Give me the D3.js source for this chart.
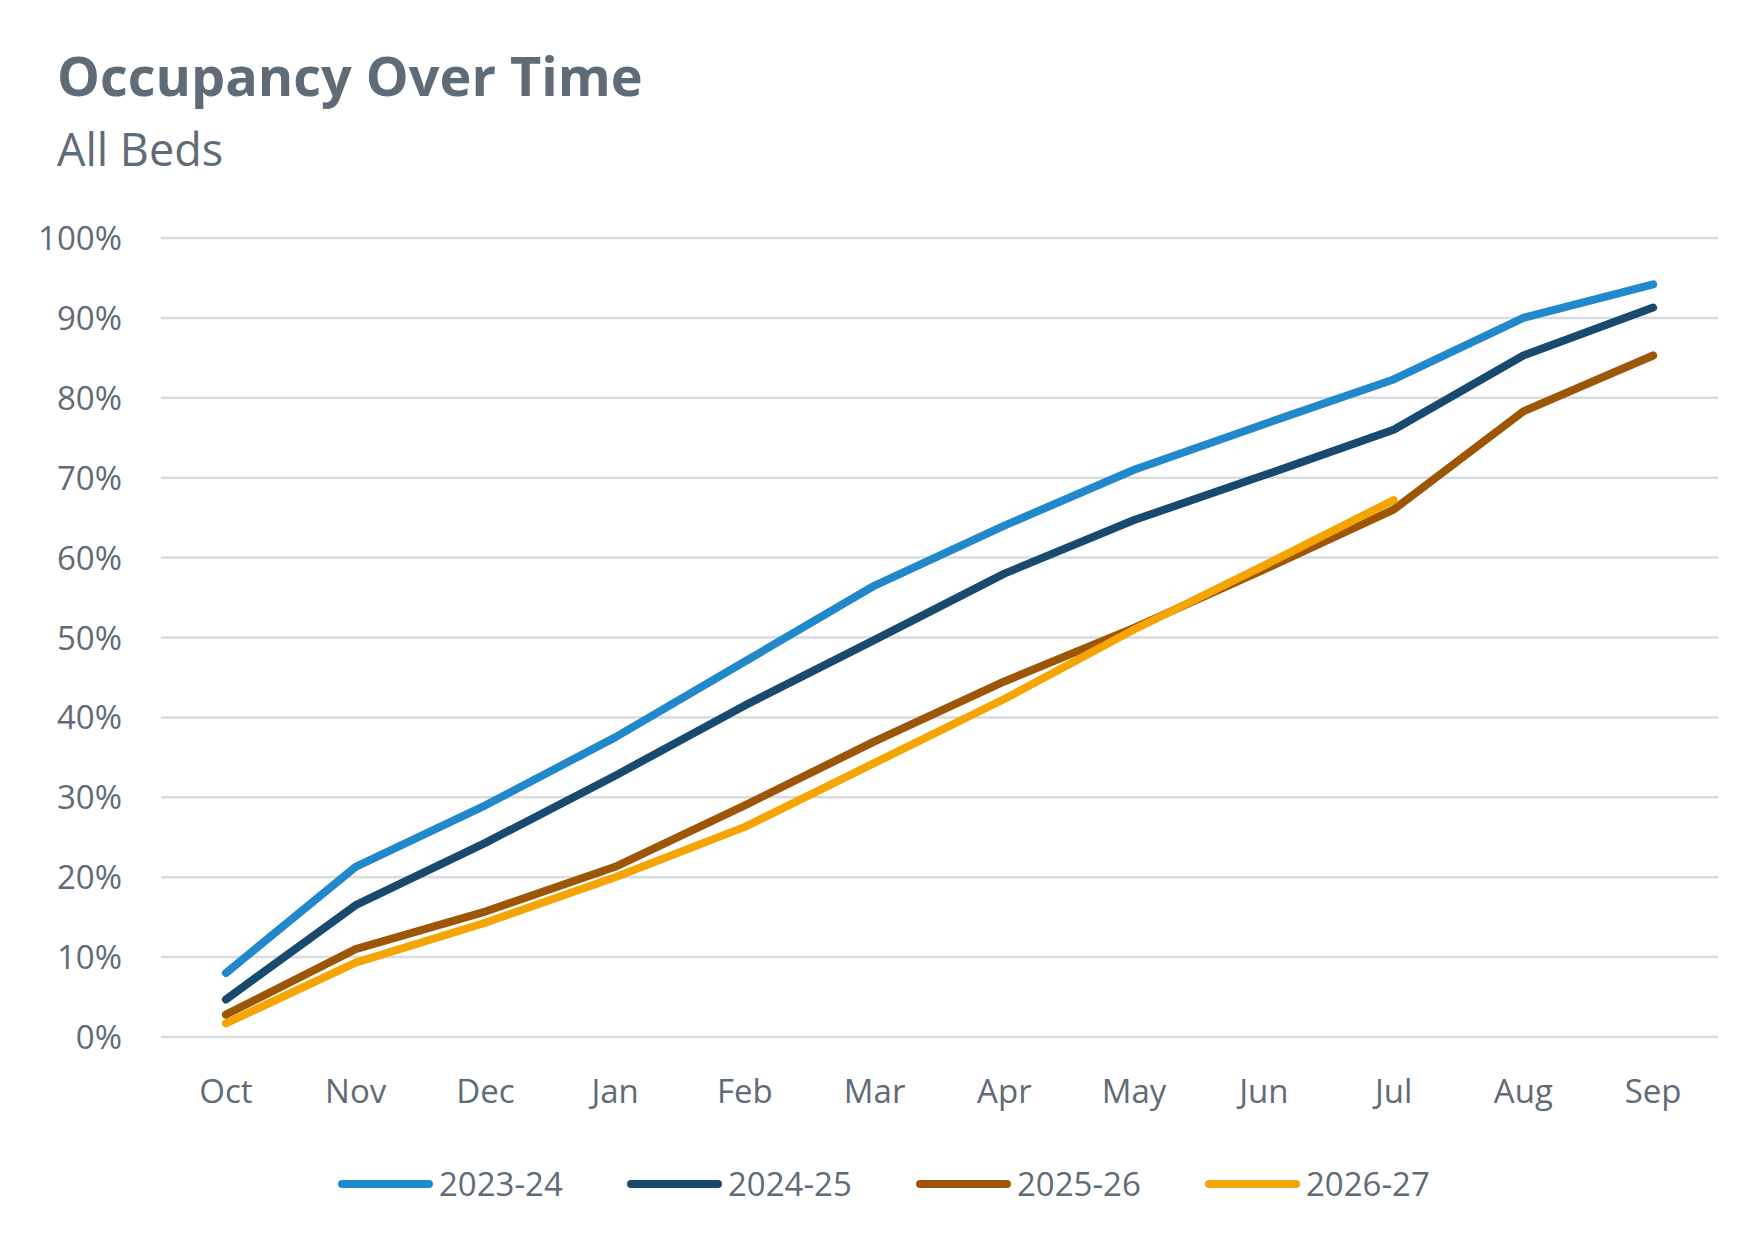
<!DOCTYPE html>
<html>
<head>
<meta charset="utf-8">
<script src="https://cdn.jsdelivr.net/npm/d3@7"></script>
<style>
  body { margin: 0; background: #fff; }
  text { font-family: "Open Sans", "Noto Sans", sans-serif; fill: #5f6b77; }
</style>
</head>
<body>
<svg id="chart" width="1760" height="1245"></svg>
<script>
const months = ['Oct', 'Nov', 'Dec', 'Jan', 'Feb', 'Mar', 'Apr', 'May', 'Jun', 'Jul', 'Aug', 'Sep'];
const yTicks = [0, 10, 20, 30, 40, 50, 60, 70, 80, 90, 100];
const seriesNames = ['2023-24', '2024-25', '2025-26', '2026-27'];
const seriesColors = ['#2288cc', '#174a6e', '#9c5606', '#f5a503'];
const s2023 = [8, 21.3, 29, 37.5, 47, 56.5, 64, 71, 76.7, 82.3, 90, 94.2];
const s2024 = [4.7, 16.5, 24.3, 32.7, 41.5, 49.7, 58, 64.7, 70.3, 76, 85.3, 91.3];
const s2025 = [2.8, 11, 15.7, 21.3, 29, 37, 44.5, 51.2, 58.5, 66, 78.3, 85.3];
const s2026 = [1.7, 9.3, 14.3, 20, 26.3, 34.3, 42.3, 51, 59, 67.2];
const allSeries = [s2023, s2024, s2025, s2026];

const svg = d3.select('#chart');
const plotLeft = 161, plotRight = 1718, plotTop = 238, plotBottom = 1037;

const x = d3.scalePoint().domain(months).range([plotLeft, plotRight]).padding(0.5);
const y = d3.scaleLinear().domain([0, 100]).range([plotBottom, plotTop]);

svg.append('text').attr('x', 57).attr('y', 96)
    .style('font-size', '54px').style('font-weight', 'bold').text('Occupancy Over Time');
svg.append('text').attr('x', 57).attr('y', 166)
    .style('font-size', '45px').text('All Beds');

// gridlines
svg.append('g').selectAll('line').data(yTicks).join('line')
    .attr('x1', plotLeft).attr('x2', plotRight)
    .attr('y1', d => y(d)).attr('y2', d => y(d))
    .attr('stroke', '#d9dcdf').attr('stroke-width', 2.5);

svg.append('g').selectAll('text').data(yTicks).join('text')
    .attr('x', 122).attr('y', d => y(d) + 12)
    .attr('text-anchor', 'end').style('font-size', '33px')
    .text(d => d + '%');

svg.append('g').selectAll('text').data(months).join('text')
    .attr('x', d => x(d)).attr('y', 1103)
    .attr('text-anchor', 'middle').style('font-size', '33px')
    .text(d => d);

const line = d3.line().x((d, i) => x(months[i])).y(d => y(d));

allSeries.forEach(function (values, i) {
    svg.append('path').datum(values)
        .attr('d', line).attr('fill', 'none')
        .attr('stroke', seriesColors[i]).attr('stroke-width', 8)
        .attr('stroke-linecap', 'round').attr('stroke-linejoin', 'round');
});

// legend
const legendX = [342, 631, 920, 1209];
const legend = svg.append('g').selectAll('g').data(seriesNames).join('g')
    .attr('transform', (d, i) => 'translate(' + legendX[i] + ',1184)');
legend.append('line').attr('x1', 0).attr('x2', 87)
    .attr('stroke', (d, i) => seriesColors[i]).attr('stroke-width', 8)
    .attr('stroke-linecap', 'round');
legend.append('text').attr('x', 97).attr('y', 12)
    .style('font-size', '33px').text(d => d);
</script>
</body>
</html>
